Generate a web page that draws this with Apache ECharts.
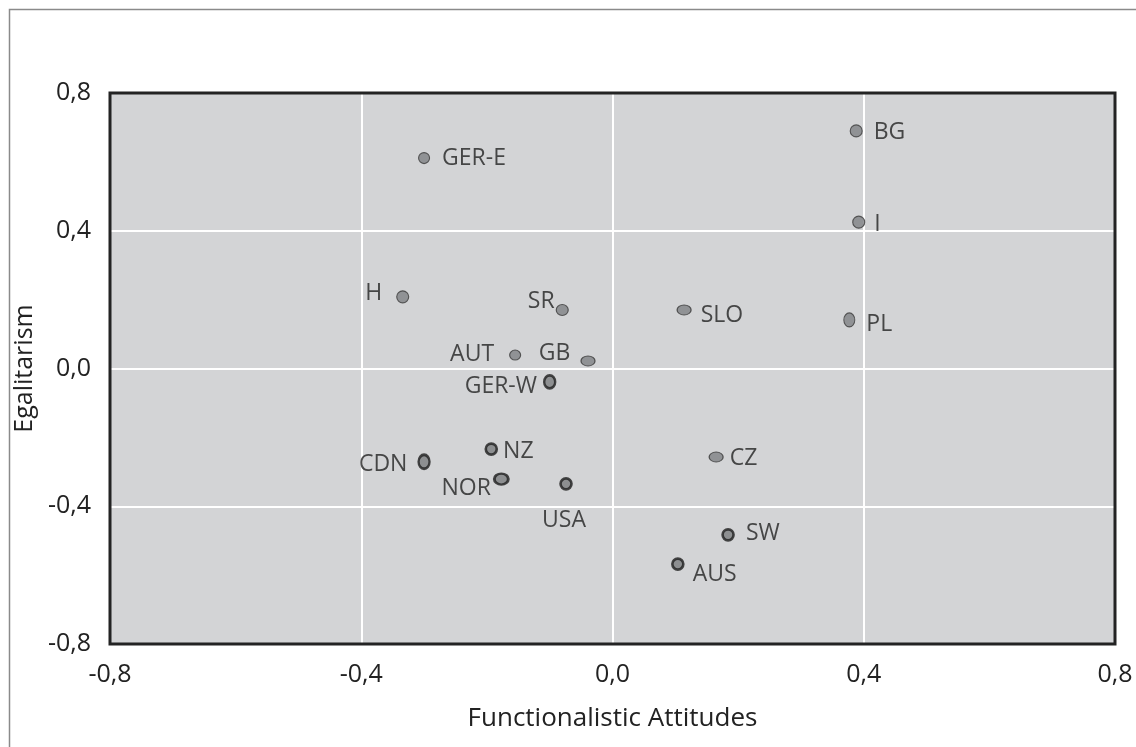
<!DOCTYPE html>
<html>
<head>
<meta charset="utf-8">
<script src="https://cdn.jsdelivr.net/npm/echarts@6/dist/echarts.min.js"></script>
<style>html,body{margin:0;padding:0;background:#fff}#c{width:1136px;height:747px}</style>
</head>
<body>
<div id="c"></div>
<script>
// ---- data ----
var countries = ['GER-E','BG','I','H','SR','SLO','PL','AUT','GB','GER-W','NZ','CDN','NOR','USA','CZ','SW','AUS'];
var functionalism = [-0.300, 0.388, 0.392, -0.334, -0.080, 0.114, 0.377, -0.155, -0.039, -0.100, -0.193, -0.300, -0.177, -0.074, 0.165, 0.184, 0.104];
var egalitarism   = [0.611, 0.690, 0.425, 0.208, 0.170, 0.170, 0.141, 0.039, 0.022, -0.039, -0.234, -0.271, -0.321, -0.335, -0.257, -0.483, -0.568];
var boldOutline   = [false,false,false,false,false,false,false,false,false,true,true,true,true,true,false,true,true];
var tickValues = [-0.8, -0.4, 0.0, 0.4, 0.8];

// ---- styling (not data) ----
var markerSize = {
  'GER-E':[11,11],'BG':[12,12],'I':[12,12],'H':[12,12],'SR':[12,11],'SLO':[14,10],'PL':[11,14],
  'AUT':[11,10],'GB':[14,10],'GER-W':[11,13],'NZ':[11,11],'CDN':[11,14],'NOR':[14,11],
  'USA':[11,11],'CZ':[14,10],'SW':[11,11],'AUS':[11,11]
};
var labelPlace = {
  'GER-E':{position:'right',distance:12,offset:[0,0]},
  'BG':{position:'right',distance:11,offset:[0,2]},
  'I':{position:'right',distance:9,offset:[0,2]},
  'H':{position:'left',distance:14,offset:[0,-3]},
  'SR':{position:'left',distance:1,offset:[0,-9]},
  'SLO':{position:'right',distance:9,offset:[0,5]},
  'PL':{position:'right',distance:11,offset:[0,5]},
  'AUT':{position:'left',distance:15,offset:[0,-1]},
  'GB':{position:'left',distance:10,offset:[0,-7]},
  'GER-W':{position:'left',distance:6,offset:[0,5]},
  'NZ':{position:'right',distance:5,offset:[0,2]},
  'CDN':{position:'left',distance:10,offset:[0,3]},
  'NOR':{position:'left',distance:2,offset:[0,9]},
  'USA':{position:'bottom',distance:18,offset:[-2,0]},
  'CZ':{position:'right',distance:6,offset:[0,1]},
  'SW':{position:'right',distance:11,offset:[0,-1]},
  'AUS':{position:'right',distance:8,offset:[0,10]}
};

var FONT = '"Open Sans", "Noto Sans", sans-serif';
var TXT = '#222222';
function fmt(v){ return v.toFixed(1).replace('.', ','); }

var points = countries.map(function(name, i){
  var lp = labelPlace[name];
  return {
    name: name,
    value: [functionalism[i], egalitarism[i]],
    symbolSize: markerSize[name],
    itemStyle: boldOutline[i]
      ? {color:'#7c7d80', borderColor:'#1e1e1e', borderWidth:2.6}
      : {color:'#808184', borderColor:'#3a3a3a', borderWidth:1.1},
    label: {show:true, position: lp.position, distance: lp.distance, offset: lp.offset}
  };
});

var G = {left:110, right:21, top:93, bottom:103};
var W = 1136, H = 747;

var chart = echarts.init(document.getElementById('c'), null, {renderer:'canvas'});
chart.setOption({
  animation:false,
  backgroundColor:'#fff',
  graphic:[
    {type:'rect', left:7, top:7, shape:{x:0,y:0,width:1200,height:1000},
      style:{fill:'none', stroke:'#8a8a8a', lineWidth:1.5}, silent:true, z:0},
    {type:'rect', shape:{x:G.left, y:G.top, width:W-G.left-G.right, height:H-G.top-G.bottom},
      style:{fill:'none', stroke:'#232323', lineWidth:3}, silent:true, z:10}
  ],
  grid:{left:G.left, right:G.right, top:G.top, bottom:G.bottom, show:true, backgroundColor:'#d3d4d6',
        borderWidth:0, containLabel:false},
  xAxis:{type:'value', min:-0.8, max:0.8, interval:0.4,
    name:'Functionalistic Attitudes', nameLocation:'middle', nameGap:62,
    nameTextStyle:{fontFamily:FONT, fontSize:26, color:TXT},
    axisLine:{show:false}, axisTick:{show:false},
    axisLabel:{fontFamily:FONT, fontSize:25, color:TXT, margin:18,
      formatter:function(v){ return tickValues.indexOf(Math.round(v*10)/10) >= 0 ? fmt(v) : ''; }},
    splitLine:{show:true, lineStyle:{color:'#ffffff', width:2}}},
  yAxis:{type:'value', min:-0.8, max:0.8, interval:0.4,
    name:'Egalitarism', nameLocation:'middle', nameGap:68, nameRotate:90,
    nameTextStyle:{fontFamily:FONT, fontSize:25, color:TXT},
    axisLine:{show:false}, axisTick:{show:false},
    axisLabel:{fontFamily:FONT, fontSize:25, color:TXT, margin:19,
      formatter:function(v){ return fmt(v); }},
    splitLine:{show:true, lineStyle:{color:'#ffffff', width:2}}},
  series:[{
    type:'scatter',
    symbol:'circle',
    data: points,
    label:{show:true, fontFamily:FONT, fontSize:23, color:TXT,
      formatter:function(p){ return p.name; }},
    z:3
  }]
});
</script>
</body>
</html>
